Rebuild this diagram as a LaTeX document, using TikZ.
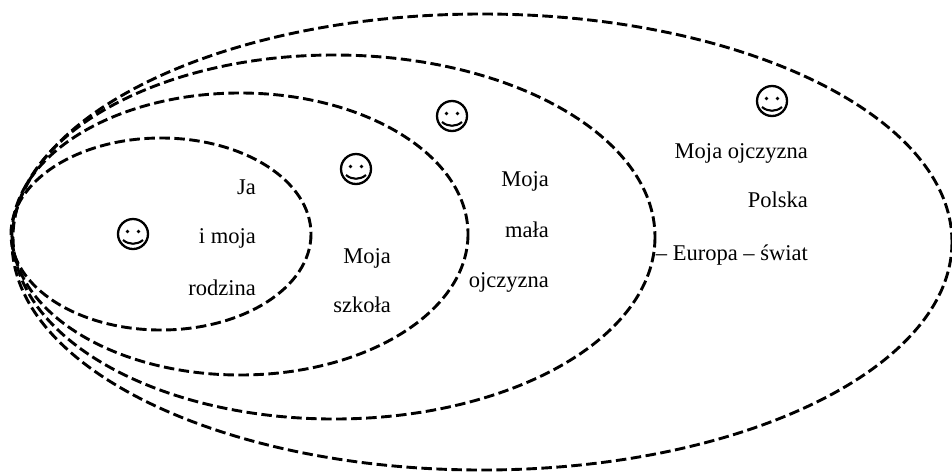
\documentclass[tikz,border=0pt]{standalone}
\usepackage{fontspec}
\setmainfont{Liberation Serif}
\tikzset{
  ring/.style={line width=2.9pt, dash pattern=on 10.5pt off 4.5pt},
  txt/.style={anchor=base east, inner sep=0pt, font=\fontsize{22.5}{27}\selectfont},
  smiley/.style={circle, draw, line width=2.3pt, minimum size=30pt, inner sep=0pt,
    path picture={
      \begin{scope}[shift={(path picture bounding box.center)}, x=1pt, y=1pt]
        \fill (-5.5,2.5) circle (1.9pt);
        \fill (5.5,2.5) circle (1.9pt);
        \draw[line width=2.1pt] (-10,-6) .. controls (-4,-11) and (4,-11) .. (10,-6);
      \end{scope}}}
}
\begin{document}
\begin{tikzpicture}[x=1pt, y=-1pt]
	    \useasboundingbox (0,0) rectangle (952,472);
	    \draw[ring] (161,234) ellipse [x radius=150, y radius=96];
	    \draw[ring] (240,234) ellipse [x radius=228, y radius=141];
	    \draw[ring] (334,237) ellipse [x radius=321, y radius=182];
	    \draw[ring] (482,242) ellipse [x radius=470, y radius=228];
	    \node[smiley] (s1) at (133,234) {};
	    \node[smiley] (s2) at (356,169) {};
	    \node[smiley] (s3) at (452,116) {};
	    \node[smiley] (s4) at (772,101) {};
	    \node[txt] (ja) at (256,194) {Ja};
	    \node[txt] (imoja) at (256,243) {i moja};
	    \node[txt] (rodzina) at (256,295) {rodzina};
	    \node[txt] (moja1) at (391,263) {Moja};
	    \node[txt] (szkola) at (391,312) {szkoła};
	    \node[txt] (moja2) at (549,186) {Moja};
	    \node[txt] (mala) at (549,237) {mała};
	    \node[txt] (ojcz) at (549,287) {ojczyzna};
	    \node[txt] (mojaojcz) at (808,158) {Moja ojczyzna};
	    \node[txt] (polska) at (808,207) {Polska};
	    \node[txt] (europa) at (808,260) {– Europa – świat};
\end{tikzpicture}
\end{document}
